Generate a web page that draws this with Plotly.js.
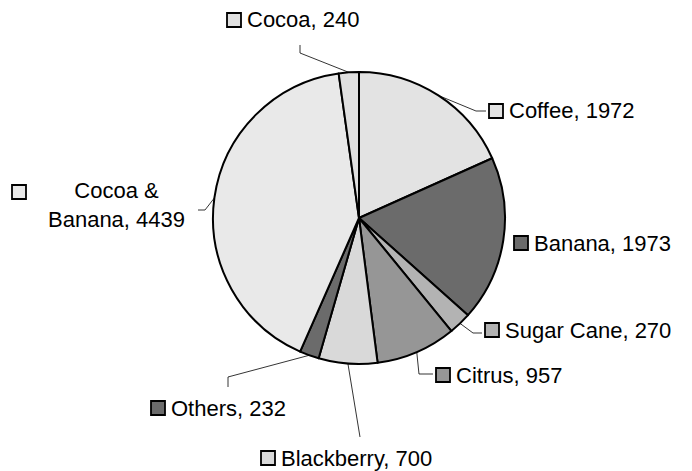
<!DOCTYPE html>
<html>
<head>
<meta charset="utf-8">
<script src="https://cdn.plot.ly/plotly-3.0.1.min.js"></script>
<style>html,body{margin:0;padding:0;background:#fff;}#chart{width:692px;height:471px;}</style>
</head>
<body>
<div id="chart"></div>
<script>
// ---- Data ----
var categories = ['Coffee', 'Banana', 'Sugar Cane', 'Citrus', 'Blackberry', 'Others', 'Cocoa & Banana', 'Cocoa'];
var values = [1972, 1973, 270, 957, 700, 232, 4439, 240];
var labelTexts = ['Coffee, 1972', 'Banana, 1973', 'Sugar Cane, 270', 'Citrus, 957', 'Blackberry, 700', 'Others, 232', 'Cocoa &<br>Banana, 4439', 'Cocoa, 240'];
var colors = ['#e3e3e3', '#6b6b6b', '#b3b3b3', '#969696', '#d9d9d9', '#6b6b6b', '#e9e9e9', '#e0e0e0'];

// ---- Layout (pixels) ----
var W = 692, H = 471;
var CX = 359, CY = 218, R = 146;
var FONT = {family: 'Liberation Sans, Arial, sans-serif', size: 22, color: '#000'};
// per label: box left x, box center y, text position, text anchor, leader elbow points (from label side toward pie)
var labelLayout = [
  {box: [489, 111], text: [507, 111], anchor: 'left', elbow: [[486, 111], [476, 111]]},
  {box: [514, 243], text: [532, 243], anchor: 'left', elbow: null},
  {box: [485, 330], text: [503, 330], anchor: 'left', elbow: [[482, 333], [473, 333]]},
  {box: [436, 375], text: [454, 375], anchor: 'left', elbow: [[433, 374], [419, 374]]},
  {box: [261, 458], text: [279, 458], anchor: 'left', elbow: [[360, 437]]},
  {box: [151, 408], text: [169, 408], anchor: 'left', elbow: [[228, 387], [228, 377]]},
  {box: [12, 192], text: [116, 205], anchor: 'center', elbow: [[198, 210], [205, 210]]},
  {box: [227, 20], text: [245, 20], anchor: 'left', elbow: [[300, 45], [300, 53]]}
];

function px(x) { return x / W; }
function py(y) { return 1 - y / H; }

var total = values.reduce(function (a, b) { return a + b; }, 0);
var shapes = [], annotations = [];
var cum = 0;
for (var i = 0; i < values.length; i++) {
  var mid = (cum + values[i] / 2) / total * 2 * Math.PI;
  cum += values[i];
  var ax = CX + R * Math.sin(mid), ay = CY - R * Math.cos(mid);
  var L = labelLayout[i];
  if (L.elbow) {
    var pts = L.elbow.concat([[ax, ay]]);
    var d = pts.map(function (p, k) { return (k ? 'L' : 'M') + px(p[0]).toFixed(5) + ',' + py(p[1]).toFixed(5); }).join(' ');
    shapes.push({type: 'path', xref: 'paper', yref: 'paper', path: d, line: {color: '#000', width: 0.8}});
  }
  var s = 14;
  shapes.push({type: 'rect', xref: 'paper', yref: 'paper',
    x0: px(L.box[0]), x1: px(L.box[0] + s), y0: py(L.box[1] + s / 2), y1: py(L.box[1] - s / 2),
    fillcolor: colors[i], line: {color: '#000', width: 1.8}});
  annotations.push({xref: 'paper', yref: 'paper', x: px(L.text[0]), y: py(L.text[1]),
    xanchor: L.anchor, yanchor: 'middle', align: 'center', showarrow: false,
    text: labelTexts[i], font: FONT});
}

var trace = {
  type: 'pie',
  labels: categories,
  values: values,
  sort: false,
  direction: 'clockwise',
  rotation: 0,
  textinfo: 'none',
  hoverinfo: 'label+value',
  marker: {colors: colors, line: {color: '#000', width: 2}},
  domain: {x: [px(CX - R), px(CX + R)], y: [py(CY + R), py(CY - R)]}
};

var layout = {
  width: W, height: H,
  margin: {l: 0, r: 0, t: 0, b: 0},
  paper_bgcolor: '#fff',
  showlegend: false,
  shapes: shapes,
  annotations: annotations,
  font: FONT
};

Plotly.newPlot('chart', [trace], layout, {displayModeBar: false, staticPlot: true});
</script>
</body>
</html>
